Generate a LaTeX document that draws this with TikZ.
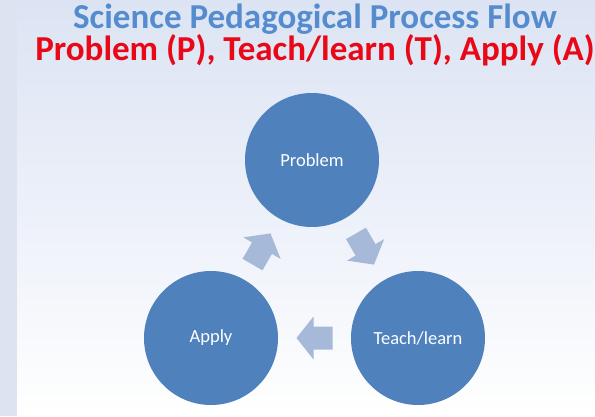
\documentclass[tikz,border=0pt]{standalone}
\usepackage{fontspec}
\setmainfont{Carlito}
\usetikzlibrary{calc}
\definecolor{circblue}{RGB}{79,129,189}
\definecolor{arrowblue}{RGB}{167,185,216}
\definecolor{titleblue}{RGB}{85,140,207}
\definecolor{titlered}{RGB}{232,8,24}
\definecolor{bgtop}{RGB}{220,228,243}
\definecolor{bgmid}{RGB}{236,240,249}
\definecolor{strip}{RGB}{221,228,241}
\tikzset{
  stage/.style={circle, fill=circblue, draw=none, minimum size=134pt, inner sep=0pt,
    text=white, font=\fontsize{18.5}{22}\selectfont},
  cycarrow/.style={fill=arrowblue, draw=none},
  titlebox/.style={anchor=base, align=center, inner sep=0pt,
    font=\fontsize{35}{27.5}\bfseries\selectfont},
}
\begin{document}
\begin{tikzpicture}[x=1pt,y=1pt]
\useasboundingbox (0,0) rectangle (595,416);
% background
\fill[strip] (0,0) rectangle (17,416);
\shade[top color=bgtop, bottom color=white, middle color=bgmid] (17,0) rectangle (595,416);
% title
\node[titlebox] (title) at (315,355)
  {\textcolor{titleblue}{Science Pedagogical Process Flow}\\
   \textcolor{titlered}{Problem (P), Teach/learn (T), Apply (A)}};
% stages
\node[stage] (p) at (312,256) {Problem};
\node[stage] (t) at (418,78) {Teach/learn};
\node[stage] (a) at (211,78) {Apply};
% arrows between stages
\coordinate (c1) at ($(p)!0.5!(t)$);
\coordinate (c2) at ($(t)!0.5!(a)$);
\coordinate (c3) at ($(a)!0.5!(p)$);
\foreach \c/\ang in {c1/-60, c2/180, c3/60}{
  \begin{scope}[shift={(\c)}, rotate=\ang]
    \fill[cycarrow] (-18,-11.5) -- (1,-11.5) -- (1,-21.5) -- (18,0) -- (1,21.5) -- (1,11.5) -- (-18,11.5) -- cycle;
  \end{scope}
}
\end{tikzpicture}
\end{document}
